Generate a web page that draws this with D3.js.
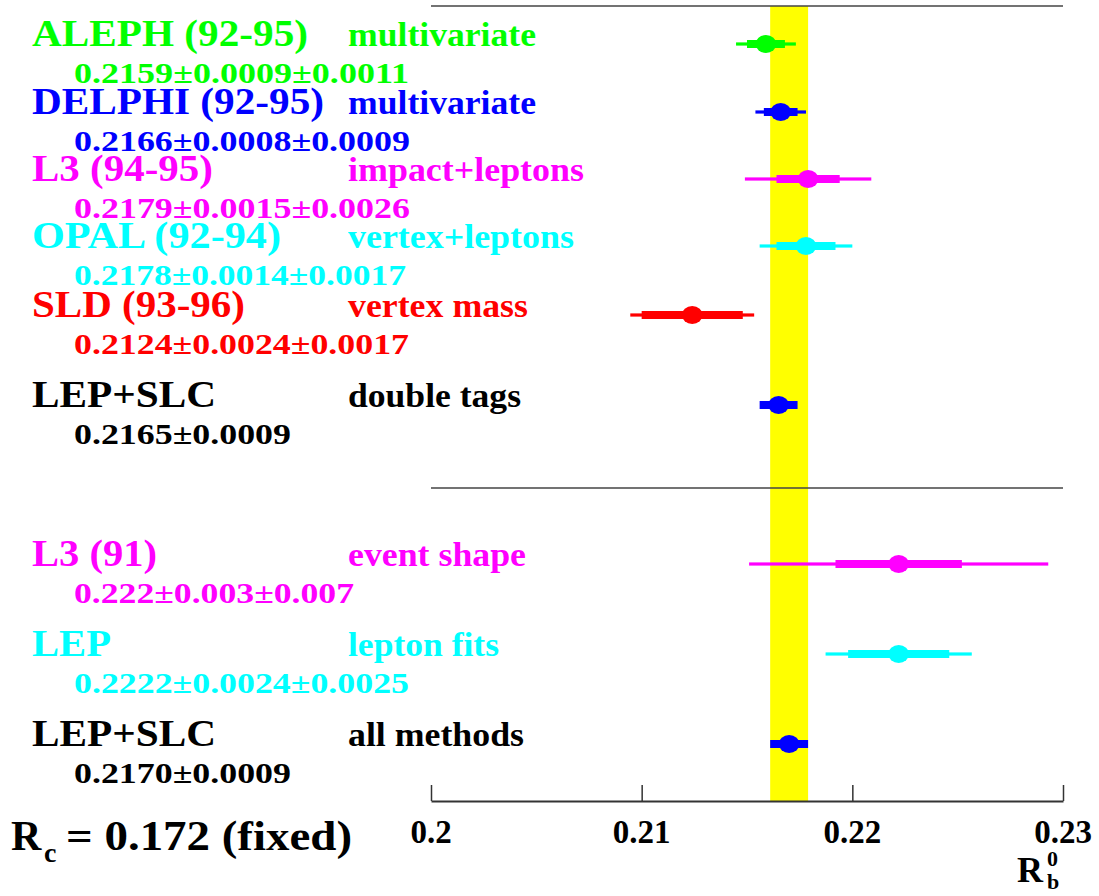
<!DOCTYPE html>
<html>
<head>
<meta charset="utf-8">
<script src="https://cdn.jsdelivr.net/npm/d3@7"></script>
</head>
<body style="margin:0">
<svg id="chart" width="1099" height="896"></svg>
<script>
// ---------------- data ----------------
const experiments = ["ALEPH (92-95)", "DELPHI (92-95)", "L3 (94-95)", "OPAL (92-94)", "SLD (93-96)", "LEP+SLC", "L3 (91)", "LEP", "LEP+SLC"];
const methods = ["multivariate", "multivariate", "impact+leptons", "vertex+leptons", "vertex mass", "double tags", "event shape", "lepton fits", "all methods"];
const resultTexts = ["0.2159\u00b10.0009\u00b10.0011", "0.2166\u00b10.0008\u00b10.0009", "0.2179\u00b10.0015\u00b10.0026", "0.2178\u00b10.0014\u00b10.0017", "0.2124\u00b10.0024\u00b10.0017", "0.2165\u00b10.0009", "0.222\u00b10.003\u00b10.007", "0.2222\u00b10.0024\u00b10.0025", "0.2170\u00b10.0009"];
const values   = [0.2159, 0.2166, 0.2179, 0.2178, 0.2124, 0.2165, 0.2222, 0.2222, 0.2170];
const statErrs = [0.0009, 0.0008, 0.0015, 0.0014, 0.0024, 0.0009, 0.0030, 0.0024, 0.0009];
const totalErrs = [0.00142, 0.0012, 0.0030, 0.0022, 0.00294, null, 0.0071, 0.00347, null];
const colors = ["#00ff00", "#0000ff", "#ff00ff", "#00ffff", "#ff0000", "#000000", "#ff00ff", "#00ffff", "#000000"];
const markerColors = ["#00ff00", "#0000ff", "#ff00ff", "#00ffff", "#ff0000", "#0000ff", "#ff00ff", "#00ffff", "#0000ff"];
const bandCenter = 0.2170, bandHalf = 0.0009;
const tickValues = [0.2, 0.21, 0.22, 0.23];
const tickLabels = ["0.2", "0.21", "0.22", "0.23"];

// ---------------- layout ----------------
const FONT = '"Liberation Serif"';
const rowY = [44, 112, 179, 246, 315, 405, 564, 654, 744];
const labelWidths  = [276, 292, 181, 249, 213, 184, 125, 79, 184];
const methodWidths = [188, 188, 236, 226, 180, 173, 178, 151, 176];
const resultWidths = [335, 336, 336, 332, 335, 217, 280, 335, 217];

const svg = d3.select("#chart");
const x = d3.scaleLinear().domain([0.2, 0.23]).range([431, 1063]);
const axisY = 801, topY = 6, midY = 488;

function txt(parent, xx, yy, size, s, fill) {
  return parent.append("text").attr("x", xx).attr("y", yy).attr("font-size", size)
    .attr("font-weight", "bold").style("font-family", FONT).attr("fill", fill || "#000").text(s);
}

// yellow band
svg.append("rect")
  .attr("x", x(bandCenter - bandHalf)).attr("y", topY)
  .attr("width", x(bandCenter + bandHalf) - x(bandCenter - bandHalf))
  .attr("height", axisY - topY)
  .attr("fill", "#ffff00");

// separator lines
[topY, midY].forEach(yy => {
  svg.append("line").attr("x1", x(0.2)).attr("x2", x(0.23)).attr("y1", yy).attr("y2", yy)
    .attr("stroke", "#444").attr("stroke-width", 1.5);
});

// axis (ticks only; labels drawn below as text)
const axis = d3.axisBottom(x).tickValues(tickValues).tickFormat("").tickSize(-16).tickSizeOuter(0);
const ag = svg.append("g").attr("transform", `translate(0,${axisY})`).call(axis);
ag.select(".domain").attr("stroke", "#333").attr("stroke-width", 1.8);
ag.selectAll(".tick line").attr("stroke", "#333").attr("stroke-width", 1.5);
tickValues.forEach((t, i) => {
  txt(svg, x(t), axisY + 42, 33, tickLabels[i]).attr("text-anchor", "middle");
});

// error bars and markers
const rows = values.map((v, i) => ({v, s: statErrs[i], t: totalErrs[i], y: rowY[i], c: markerColors[i]}));
const g = svg.append("g");
rows.forEach(r => {
  if (r.t !== null) {
    g.append("rect").attr("x", x(r.v - r.t)).attr("y", r.y - 1.6)
      .attr("width", x(r.v + r.t) - x(r.v - r.t)).attr("height", 3.2).attr("fill", r.c);
  }
  g.append("rect").attr("x", x(r.v - r.s)).attr("y", r.y - 4)
    .attr("width", x(r.v + r.s) - x(r.v - r.s)).attr("height", 8).attr("fill", r.c);
  g.append("ellipse").attr("cx", x(r.v)).attr("cy", r.y).attr("rx", 10.5).attr("ry", 9).attr("fill", r.c);
});

// texts
const tg = svg.append("g");
experiments.forEach((t, i) => {
  txt(tg, 32, rowY[i] + 2, 37, t, colors[i])
    .attr("textLength", labelWidths[i]).attr("lengthAdjust", "spacingAndGlyphs");
  txt(tg, 348, rowY[i] + 2, 33, methods[i], colors[i])
    .attr("textLength", methodWidths[i]).attr("lengthAdjust", "spacingAndGlyphs");
  txt(tg, 74, rowY[i] + 39, 30, resultTexts[i], colors[i])
    .attr("textLength", resultWidths[i]).attr("lengthAdjust", "spacingAndGlyphs");
});

// R_c = 0.172 (fixed)
txt(tg, 11, 850, 42, "R");
txt(tg, 44, 862, 28, "c");
txt(tg, 66, 850, 42, "= 0.172 (fixed)")
  .attr("textLength", 286).attr("lengthAdjust", "spacingAndGlyphs");

// axis title R_b^0
txt(tg, 1017, 882, 36, "R");
txt(tg, 1047, 866, 22, "0");
txt(tg, 1047, 889, 22, "b");
</script>
</body>
</html>
